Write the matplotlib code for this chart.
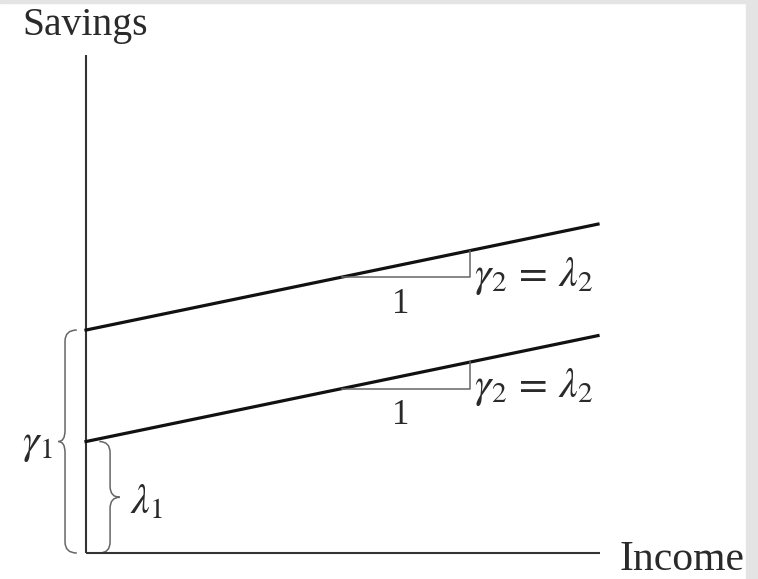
import numpy as np
import matplotlib.pyplot as plt
from matplotlib.path import Path
from matplotlib.patches import PathPatch, Rectangle

plt.rcParams['font.family'] = ['Liberation Serif', 'DejaVu Serif']
plt.rcParams['mathtext.fontset'] = 'stix'

# model values (schematic)
lambda1 = 1.0          # intercept of lower line
gamma1 = 2.0           # intercept of upper line
slope = 0.19           # gamma2 = lambda2
income = np.array([0.0, 5.0])
intercepts = [gamma1, lambda1]
run_x = [2.5, 3.75]    # slope triangle run


def brace(ax, x_spine, x_end, x_tip, y0, y1, r=0.1, **kw):
    # curly brace drawn from y0 to y1, tip at x_tip, ends curling toward x_end
    ym = (y0 + y1) / 2
    verts = [(x_end, y1), (x_spine, y1), (x_spine, y1 - r),
             (x_spine, ym + r),
             (x_spine, ym), (x_tip, ym),
             (x_spine, ym), (x_spine, ym - r),
             (x_spine, y0 + r),
             (x_spine, y0), (x_end, y0)]
    codes = [Path.MOVETO, Path.CURVE3, Path.CURVE3,
             Path.LINETO,
             Path.CURVE3, Path.CURVE3,
             Path.CURVE3, Path.CURVE3,
             Path.LINETO,
             Path.CURVE3, Path.CURVE3]
    ax.add_patch(PathPatch(Path(verts, codes), fill=False, **kw))


fig = plt.figure(figsize=(7.58, 5.79), dpi=100)
ax = fig.add_axes([0, 0, 1, 1])
ax.set_xlim(-0.84, 6.5625)
ax.set_ylim(-0.233, 4.96)
ax.axis('off')

txt = '#2a2a2a'

# axes
ax.plot([0, 0], [0, 4.47], color='#333333', lw=1.5, solid_capstyle='butt')
ax.plot([0, 5.02], [0, 0], color='#333333', lw=1.5, solid_capstyle='butt')

for b in intercepts:
    ax.plot(income, b + slope * income, color='#111111', lw=2.3)
    y_leg = b + slope * run_x[0]
    y_top = b + slope * run_x[1]
    ax.plot([run_x[0], run_x[1], run_x[1]], [y_leg, y_leg, y_top],
            color='#666666', lw=1.1)
    ax.text(run_x[1] + 0.04, y_leg - 0.08, r'$\gamma_2\,=\,\lambda_2$',
            fontsize=30, va='baseline', ha='left', color=txt)
    ax.text((run_x[0] + run_x[1]) / 2 - 0.05, y_leg - 0.32, '1',
            fontsize=25, va='baseline', ha='center', color=txt)

# braces
brace(ax, -0.205, -0.09, -0.27, 0.0, gamma1, color='#666666', lw=1.1)
brace(ax, 0.235, 0.13, 0.33, 0.0, lambda1, color='#666666', lw=1.1)
ax.text(-0.33, gamma1 / 2 - 0.03, r'$\gamma_1$', fontsize=30, ha='right',
        va='center', color=txt)
ax.text(0.43, lambda1 / 2 - 0.05, r'$\lambda_1$', fontsize=30, ha='left',
        va='center', color=txt)

ax.text(-0.625, 4.65, 'Savings', fontsize=28.5, ha='left', va='baseline',
        color=txt)
ax.text(5.21, -0.15, 'Income', fontsize=30, ha='left', va='baseline',
        color=txt)

# light frame on top and right edges
fig.patches.append(Rectangle((0, 1 - 3 / 579), 1, 3 / 579, transform=fig.transFigure,
                             color='#e4e4e4', zorder=0))
fig.patches.append(Rectangle((746 / 758, 0), 12 / 758, 1, transform=fig.transFigure,
                             color='#e4e4e4', zorder=0))

fig.savefig('out.png', dpi=100)
